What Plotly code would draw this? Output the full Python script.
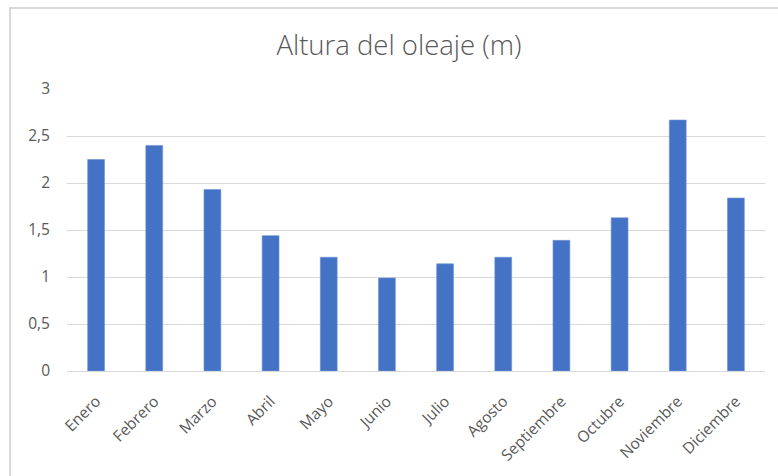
import plotly.graph_objects as go

# Monthly mean wave height (m)
meses = ["Enero", "Febrero", "Marzo", "Abril", "Mayo", "Junio", "Julio",
         "Agosto", "Septiembre", "Octubre", "Noviembre", "Diciembre"]
altura = [2.25, 2.40, 1.93, 1.44, 1.21, 0.99, 1.14, 1.21, 1.39, 1.63, 2.67, 1.84]

y_ticks = [0, 0.5, 1, 1.5, 2, 2.5, 3]

FONT = "'Open Sans', Lato, sans-serif"
GREY_TEXT = "#595959"
GRID = "#D9D9D9"

W, H = 778, 476
ML, MR, MT, MB = 67, 13, 89, 105
pw, ph = W - ML - MR, H - MT - MB


def px_x(x):
    return (x - ML) / pw


def px_y(y):
    return (H - MB - y) / ph


fig = go.Figure(
    go.Bar(
        x=meses,
        y=altura,
        marker=dict(color="#4472C4", line=dict(color="#6F93D6", width=0.6)),
        width=0.29,
    )
)

fig.update_layout(
    width=W,
    height=H,
    margin=dict(l=ML, r=MR, t=MT, b=MB),
    paper_bgcolor="white",
    plot_bgcolor="white",
    separators=",.",
    showlegend=False,
    title=dict(
        text="Altura del oleaje (m)",
        x=399 / W,
        xanchor="center",
        y=1 - 45 / H,
        yanchor="middle",
        font=dict(family=FONT, size=27.5, color=GREY_TEXT, weight=300),
    ),
    font=dict(family=FONT, size=15, color=GREY_TEXT),
    shapes=[
        # chart frame
        dict(
            type="rect",
            xref="paper", yref="paper",
            x0=px_x(10), x1=px_x(790),
            y0=px_y(490), y1=px_y(8),
            line=dict(color=GRID, width=2),
            fillcolor="rgba(0,0,0,0)",
            layer="below",
        )
    ],
)

fig.update_yaxes(
    range=[0, 3],
    tickvals=y_ticks,
    showgrid=True,
    gridcolor=GRID,
    gridwidth=1.4,
    zeroline=True,
    zerolinecolor=GRID,
    zerolinewidth=1.4,
    showline=False,
    ticks="",
    ticklabelstandoff=16,
    tickfont=dict(family=FONT, size=15.5, color=GREY_TEXT),
    fixedrange=True,
)

fig.update_xaxes(
    tickangle=-45,
    showgrid=False,
    showline=True,
    linecolor=GRID,
    linewidth=1.4,
    ticks="",
    ticklabelstandoff=14,
    tickfont=dict(family=FONT, size=15.5, color=GREY_TEXT),
    fixedrange=True,
)

fig.write_html("out.html", config={"displayModeBar": False})
